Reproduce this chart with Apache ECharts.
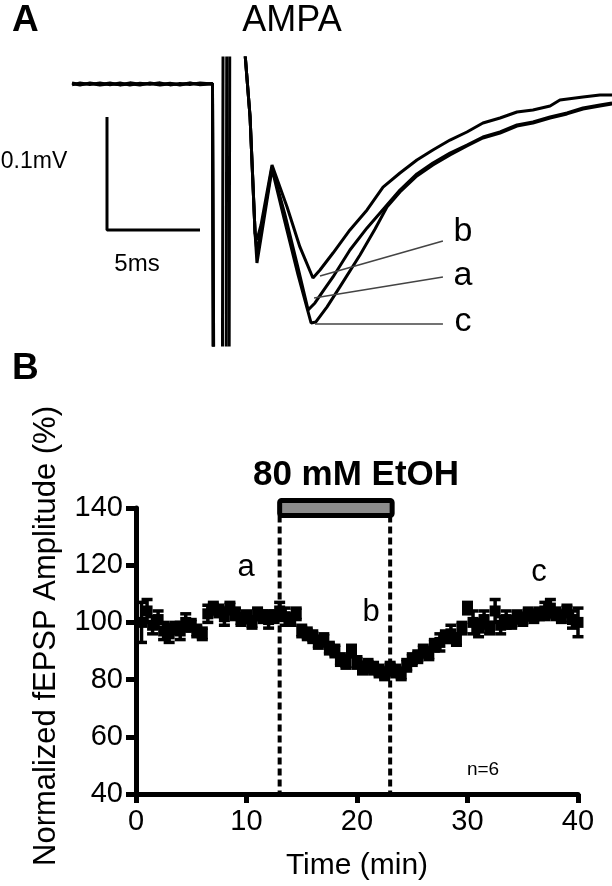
<!DOCTYPE html>
<html>
<head>
<meta charset="utf-8">
<script src="https://cdn.jsdelivr.net/npm/echarts@6/dist/echarts.min.js"></script>
<style>
  html, body { margin: 0; padding: 0; background: #fff; }
  #chart { width: 612px; height: 886px; }
</style>
</head>
<body>
<div id="chart"></div>
<script>
// ---- Panel A: fEPSP traces, time (ms) vs voltage (mV) ----
const traceA = [
  [0.38, 0.0005], [0.81, -0.001], [1.34, 0.001], [1.88, -0.0005], [2.42, 0.0008], [2.96, -0.0008],
  [3.49, 0.0003], [4.03, -0.001], [4.57, 0.0009], [5.11, -0.0004], [5.65, 0.0006], [6.18, -0.0009],
  [6.72, 0.0007], [7.26, -0.0002], [7.93, 0.0005], [7.99, -0.3], [8.66, -0.3], [8.70, 0.06],
  [9.52, 0.06], [9.95, -0.0292], [10.22, -0.1319], [10.32, -0.1487], [10.54, -0.131], [11.13, -0.0735],
  [11.83, -0.1159], [12.53, -0.1628], [13.07, -0.2], [13.44, -0.1938], [13.92, -0.1823], [14.41, -0.1708],
  [15.32, -0.1469], [16.24, -0.1274], [17.31, -0.1071], [18.01, -0.0938], [18.92, -0.0796], [19.78, -0.0699],
  [20.70, -0.0611], [21.61, -0.054], [22.47, -0.0469], [23.39, -0.0425], [24.30, -0.0363], [25.16, -0.0336],
  [26.08, -0.0292], [26.99, -0.0257], [27.85, -0.0212], [28.76, -0.0186], [29.41, -0.0168]
];
const traceB = [
  [0.38, -0.0008], [0.81, 0.0009], [1.34, -0.0004], [1.88, 0.001], [2.42, -0.0006], [2.96, 0.0009],
  [3.49, -0.0009], [4.03, 0.0006], [4.57, -0.0003], [5.11, 0.001], [5.65, -0.0008], [6.18, 0.0005],
  [6.72, -0.0004], [7.26, 0.0009], [7.93, 0.0], [7.97, -0.3], [8.46, -0.3], [8.50, 0.06],
  [9.52, 0.06], [9.95, -0.0292], [10.22, -0.1319], [10.32, -0.138], [10.54, -0.1248], [11.13, -0.0717],
  [11.94, -0.1088], [12.63, -0.1442], [13.33, -0.1717], [13.71, -0.1646], [14.41, -0.1496], [15.32, -0.1292],
  [16.24, -0.1115], [17.10, -0.0912], [18.01, -0.0788], [18.92, -0.0673], [19.78, -0.0584], [20.70, -0.0496],
  [21.61, -0.0425], [22.47, -0.0345], [23.39, -0.0301], [24.30, -0.0248], [25.16, -0.023], [26.08, -0.0195],
  [26.61, -0.0142], [27.85, -0.0115], [28.76, -0.0097], [29.41, -0.0097]
];
const traceC = [
  [0.38, 0.001], [0.81, -0.0005], [1.34, 0.0004], [1.88, -0.001], [2.42, 0.0003], [2.96, -0.0006],
  [3.49, 0.001], [4.03, -0.0003], [4.57, 0.0005], [5.11, -0.0009], [5.65, 0.0002], [6.18, -0.0004],
  [6.72, 0.001], [7.26, -0.0007], [7.93, 0.0002], [8.01, -0.3], [8.82, -0.3], [8.86, 0.06],
  [9.52, 0.06], [9.95, -0.0292], [10.22, -0.1319], [10.32, -0.1584], [10.54, -0.136], [11.13, -0.0752],
  [11.77, -0.1186], [12.53, -0.169], [13.23, -0.2115], [13.49, -0.2106], [14.09, -0.1973], [14.78, -0.1796],
  [15.86, -0.1513], [16.67, -0.1283], [17.31, -0.1088], [18.01, -0.0956], [18.92, -0.0814], [19.78, -0.0717],
  [20.70, -0.0628], [21.61, -0.0549], [22.47, -0.0478], [23.39, -0.0434], [24.30, -0.0372], [25.16, -0.0345],
  [26.08, -0.0301], [26.99, -0.0265], [27.85, -0.0221], [28.76, -0.0195], [29.41, -0.0177]
];
// leader lines from each trace minimum to its letter
const leaderA = [[13.39, -0.1894], [20.32, -0.1708]];
const leaderB = [[13.71, -0.1699], [20.32, -0.1389]];
const leaderC = [[13.44, -0.2124], [20.32, -0.2124]];
// scale bar: 5 ms by 0.1 mV
const scaleBar = [[2.258, -0.0292], [2.258, -0.1292], [7.258, -0.1292]];

// ---- Panel B: normalized fEPSP amplitude (%) over time (min) ----
const timeMin = [
  0.5, 1, 1.5, 2, 2.5, 3, 3.5, 4, 4.5, 5, 5.5, 6, 6.5, 7, 7.5, 8, 8.5, 9, 9.5, 10,
  10.5, 11, 11.5, 12, 12.5, 13, 13.5, 14, 14.5, 15, 15.5, 16, 16.5, 17, 17.5, 18, 18.5, 19, 19.5, 20,
  20.5, 21, 21.5, 22, 22.5, 23, 23.5, 24, 24.5, 25, 25.5, 26, 26.5, 27, 27.5, 28, 28.5, 29, 29.5, 30,
  30.5, 31, 31.5, 32, 32.5, 33, 33.5, 34, 34.5, 35, 35.5, 36, 36.5, 37, 37.5, 38, 38.5, 39, 39.5, 40
];
const amplitude = [
  100, 104, 99, 101, 97, 96, 98, 97, 100, 99, 97, 96, 103, 105, 104, 102, 105, 103, 101, 102,
  100, 103, 102, 101, 102, 104, 102, 101, 103, 97, 96, 95, 93, 94, 91, 90, 87, 86, 90, 86,
  84, 85, 84, 83, 82, 84, 83, 82, 85, 87, 88, 90, 89, 92, 93, 95, 96, 94, 98, 105,
  100, 98, 101, 98, 104, 99, 101, 100, 102, 101, 103, 102, 103, 104, 105, 103, 102, 104, 101, 100
];
const sem = [
  7, 4, 3, 3, 3, 3, 2, 3, 3, 2, 2, 2, 3, 2, 2, 3, 2, 2, 2, 2,
  2, 2, 2, 3, 2, 3, 3, 2, 2, 2, 2, 2, 2, 2, 2, 2, 2, 2, 2, 2,
  2, 2, 2, 2, 2, 2, 2, 2, 2, 2, 2, 2, 2, 2, 3, 2, 3, 2, 2, 2,
  4, 3, 3, 2, 4, 3, 3, 2, 2, 2, 2, 2, 2, 3, 3, 2, 2, 2, 3, 5
];
const etohStart = 13;
const etohEnd = 23;
const xTicks = [0, 10, 20, 30, 40];
const yTicks = [40, 60, 80, 100, 120, 140];

const FONT = 'Liberation Sans, Arial, Helvetica, sans-serif';

const points = timeMin.map((t, i) => [t, amplitude[i]]);
const errBars = timeMin.map((t, i) => [t, amplitude[i] - sem[i], amplitude[i] + sem[i]]);

function traceSeries(data, width, color) {
  return {
    type: 'line', xAxisIndex: 0, yAxisIndex: 0, data: data,
    showSymbol: false, clip: true, silent: true,
    lineStyle: { color: color, width: width, opacity: 1 }
  };
}

function label(text, x, y, size, bold) {
  return {
    type: 'text', x: x, y: y,
    style: {
      text: text, font: (bold ? 'bold ' : '') + size + 'px ' + FONT, fill: '#000',
      textAlign: 'center', textVerticalAlign: 'middle'
    }
  };
}

const chart = echarts.init(document.getElementById('chart'));
chart.setOption({
  animation: false,
  backgroundColor: '#fff',
  grid: [
    { left: 65, top: 58, width: 547, height: 287 },
    { left: 136, top: 508, right: 34, bottom: 92 }
  ],
  xAxis: [
    { gridIndex: 0, type: 'value', min: 0, max: 29.41, show: false },
    {
      gridIndex: 1, type: 'value', min: 0, max: 40, interval: 10,
      axisLine: { show: true, lineStyle: { color: '#000', width: 5, opacity: 1 } },
      axisTick: { show: true, length: 9, lineStyle: { color: '#000', width: 5 } },
      axisLabel: {
        fontSize: 29, color: '#000', fontFamily: FONT, margin: 13,
        formatter: v => xTicks.includes(v) ? String(v) : ''
      },
      splitLine: { show: false },
      name: 'Time (min)', nameLocation: 'middle', nameGap: 57,
      nameTextStyle: { fontSize: 30, color: '#000', fontFamily: FONT }
    }
  ],
  yAxis: [
    { gridIndex: 0, type: 'value', min: -0.231, max: 0.023, show: false },
    {
      gridIndex: 1, type: 'value', min: 40, max: 140, interval: 20,
      axisLine: { show: true, lineStyle: { color: '#000', width: 5, opacity: 1 } },
      axisTick: { show: true, length: 10, lineStyle: { color: '#000', width: 5 } },
      axisLabel: {
        fontSize: 29, color: '#000', fontFamily: FONT, margin: 13,
        formatter: v => yTicks.includes(v) ? String(v) : ''
      },
      splitLine: { show: false }
    }
  ],
  series: [
    traceSeries(traceA, 3, '#000'),
    traceSeries(traceB, 3, '#000'),
    traceSeries(traceC, 3, '#000'),
    traceSeries(leaderA, 1.6, '#444'),
    traceSeries(leaderB, 1.6, '#444'),
    traceSeries(leaderC, 1.6, '#444'),
    traceSeries(scaleBar, 3, '#000'),
    {
      // ethanol application bar + dashed boundaries
      type: 'custom', xAxisIndex: 1, yAxisIndex: 1, clip: false, silent: true,
      data: [[etohStart, etohEnd]],
      renderItem: function (params, api) {
        const a = api.coord([api.value(0), 140]);
        const b = api.coord([api.value(1), 140]);
        const base = api.coord([api.value(0), 40]);
        const barTop = a[1] - 7.5, barH = 15;
        const dash = { stroke: '#000', lineWidth: 4, lineDash: [7, 4] };
        return {
          type: 'group', children: [
            { type: 'line', shape: { x1: a[0], y1: barTop + barH, x2: a[0], y2: base[1] }, style: dash },
            { type: 'line', shape: { x1: b[0], y1: barTop + barH, x2: b[0], y2: base[1] }, style: dash },
            { type: 'rect', shape: { x: a[0], y: barTop, width: b[0] - a[0] + 2, height: barH, r: 2 },
              style: { fill: '#8c8c8c', stroke: '#000', lineWidth: 5 } }
          ]
        };
      }
    },
    {
      // SEM error bars
      type: 'custom', xAxisIndex: 1, yAxisIndex: 1, silent: true,
      data: errBars,
      renderItem: function (params, api) {
        const lo = api.coord([api.value(0), api.value(1)]);
        const hi = api.coord([api.value(0), api.value(2)]);
        const w = 5.5;
        const st = { stroke: '#000', lineWidth: 3.5 };
        return {
          type: 'group', children: [
            { type: 'line', shape: { x1: hi[0], y1: hi[1], x2: lo[0], y2: lo[1] }, style: st },
            { type: 'line', shape: { x1: hi[0] - w, y1: hi[1], x2: hi[0] + w, y2: hi[1] }, style: st },
            { type: 'line', shape: { x1: lo[0] - w, y1: lo[1], x2: lo[0] + w, y2: lo[1] }, style: st }
          ]
        };
      },
      z: 2
    },
    {
      type: 'scatter', xAxisIndex: 1, yAxisIndex: 1, data: points,
      symbol: 'rect', symbolSize: 11, silent: true,
      itemStyle: { color: '#000', opacity: 1 }, z: 3
    }
  ],
  graphic: [
    { type: 'text', left: 12, top: 2, style: { text: 'A', font: 'bold 37px ' + FONT, fill: '#000' } },
    label('AMPA', 292, 21, 36, false),
    label('0.1mV', 34, 162, 23, false),
    label('5ms', 137, 264, 24, false),
    label('b', 463, 232, 34, false),
    label('a', 463, 276, 34, false),
    label('c', 463, 322, 34, false),
    { type: 'text', left: 12, top: 350, style: { text: 'B', font: 'bold 37px ' + FONT, fill: '#000' } },
    {
      type: 'text', x: 46, y: 636, rotation: Math.PI / 2,
      style: {
        text: 'Normalized fEPSP Amplitude (%)', font: '31px ' + FONT, fill: '#000',
        textAlign: 'center', textVerticalAlign: 'middle'
      }
    },
    label('80 mM EtOH', 356, 475, 35, true),
    label('a', 246, 567, 31, false),
    label('b', 371, 612, 31, false),
    label('c', 539, 572, 31, false),
    label('n=6', 483, 770, 19, false)
  ]
});
</script>
</body>
</html>
